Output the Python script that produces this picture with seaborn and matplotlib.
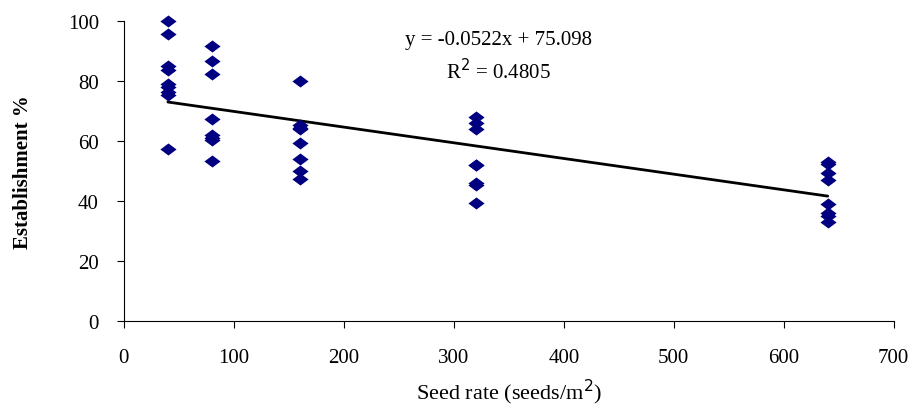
import numpy as np
import pandas as pd
import matplotlib
matplotlib.use("Agg")
import matplotlib.pyplot as plt
from matplotlib.path import Path
import seaborn as sns

# Establishment (%) observed at each seed rate (seeds/m2)
rate_40 = [100, 95.5, 85, 83.5, 79, 78, 76.5, 75.5, 57.5]
rate_80 = [91.5, 86.5, 82.5, 67.5, 62, 61, 60.5, 53.5]
rate_160 = [80, 65.5, 64.5, 64, 59.5, 54, 50, 47.5]
rate_320 = [68, 66, 64, 52, 52, 46, 45.5, 39.5]
rate_640 = [53, 52.5, 49.5, 47, 39, 36, 35, 33]
seed_rates = [40, 80, 160, 320, 640]

# Linear trend
slope = -0.0522
intercept = 75.098
r_squared = 0.4805

groups = [rate_40, rate_80, rate_160, rate_320, rate_640]
df = pd.DataFrame({
    "rate": np.concatenate([[r] * len(g) for r, g in zip(seed_rates, groups)]),
    "est": np.concatenate(groups),
})
trend_x = np.array([min(seed_rates), max(seed_rates)])
trend = pd.DataFrame({"rate": trend_x, "est": slope * trend_x + intercept})

sns.set_theme(style="ticks")
plt.rcParams["font.family"] = ["Liberation Serif", "DejaVu Serif"]

fig = plt.figure(figsize=(9.11, 4.06), dpi=100)
ax = fig.add_axes([0.136, 0.206, 0.845, 0.740])

diamond = Path([(-1, 0), (0, 0.75), (1, 0), (0, -0.75), (-1, 0)],
               [Path.MOVETO, Path.LINETO, Path.LINETO, Path.LINETO, Path.CLOSEPOLY])

sns.lineplot(data=trend, x="rate", y="est", color="black", linewidth=2.0, ax=ax, zorder=2)
sns.scatterplot(data=df, x="rate", y="est", marker=diamond, s=135, color="#000080",
                edgecolor="#000080", linewidth=0, ax=ax, zorder=3, clip_on=False)

ax.set_xlim(0, 700)
ax.set_ylim(0, 100)
ax.set_xticks(range(0, 701, 100))
ax.set_yticks(range(0, 101, 20))
ax.tick_params(axis="both", labelsize=15, length=5, width=0.8, color="black",
               labelcolor="black", direction="out")
ax.tick_params(axis="x", pad=14)
ax.tick_params(axis="y", pad=13)
for side in ("top", "right"):
    ax.spines[side].set_visible(False)
for side in ("left", "bottom"):
    ax.spines[side].set_color("black")
    ax.spines[side].set_linewidth(0.8)

ax.set_xlabel("Seed rate (seeds/m$^{2}$)", fontsize=16, labelpad=7, color="black")
ax.set_ylabel("Establishment %", fontsize=15, fontweight="bold", labelpad=25, color="black")

ax.text(341, 93.8, f"y = {slope}x + {intercept}", transform=ax.transData,
        ha="center", va="center", fontsize=15, color="black")
ax.text(341, 83.3, f"R$^{{2}}$ = {r_squared}", transform=ax.transData,
        ha="center", va="center", fontsize=15, color="black")

fig.savefig("out.png", dpi=100)
